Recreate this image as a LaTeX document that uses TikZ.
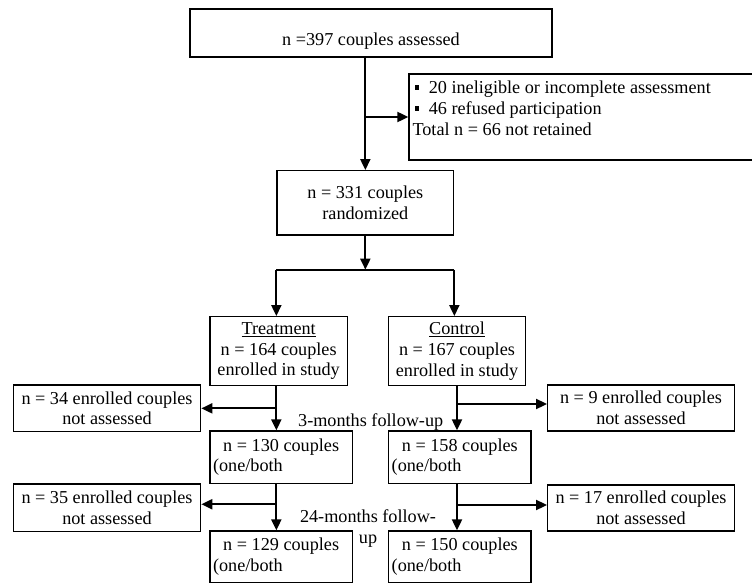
\documentclass[tikz,border=0pt]{standalone}
\usepackage{fontspec}
\setmainfont{Liberation Serif}
\usetikzlibrary{arrows.meta,calc}
\newcommand\sqbul{\makebox[16.3pt][l]{\hspace{2.3pt}\rule[4pt]{4.6pt}{4.6pt}}}
\begin{document}
\begin{tikzpicture}[x=1pt,y=-1pt,
  every node/.style={font=\fontsize{18.2pt}{20.8pt}\selectfont, inner sep=0pt, text=black},
  box/.style={draw=black, line width=1.3pt, align=center},
  conn/.style={draw=black, line width=2pt},
  arr/.style={conn, -{Triangle[length=11pt,width=10pt]}},
  lbl/.style={inner sep=0pt}
]
\useasboundingbox (0,0) rectangle (752,583);

% boxes
\node[box, minimum width=362pt, minimum height=48pt] (top) at (371,33)
  {\raisebox{-13pt}[0pt][0pt]{n =397 couples assessed}};
\node[box, minimum width=345pt, minimum height=86pt] (excl) at (581.5,117)
  {\raisebox{23pt}[0pt][0pt]{\parbox[t]{338pt}{\raggedright
   \sqbul 20 ineligible or incomplete assessment\\
   \sqbul 46 refused participation\\
   Total n = 66 not retained}}};
\node[box, minimum width=176.7pt, minimum height=64.3pt] (rand) at (365.35,202.85)
  {n = 331 couples\\randomized};
\node[box, minimum width=137.3pt, minimum height=69pt] (treat) at (278.65,351.2)
  {\underline{Treatment}\\n = 164 couples\\enrolled in study};
\node[box, minimum width=137.4pt, minimum height=69pt] (ctrl) at (457,351.2)
  {\underline{Control}\\n = 167 couples\\enrolled in study};
\node[box, minimum width=187.4pt, minimum height=46.7pt] (lo1) at (107,408.35)
  {n = 34 enrolled couples\\not assessed};
\node[box, minimum width=186.6pt, minimum height=46pt] (ro1) at (641,408)
  {n = 9 enrolled couples\\not assessed};
\node[box, minimum width=142.3pt, minimum height=52.3pt, align=left] (n130) at (281.15,457.15)
  {\makebox[136.3pt]{n = 130 couples}\\(one/both};
\node[box, minimum width=142.3pt, minimum height=52.3pt, align=left] (n158) at (459.85,457.15)
  {\makebox[136.3pt]{n = 158 couples}\\(one/both};
\node[box, minimum width=187.4pt, minimum height=47.7pt] (lo2) at (107,507.85)
  {n = 35 enrolled couples\\not assessed};
\node[box, minimum width=186.6pt, minimum height=46pt] (ro2) at (641,508)
  {n = 17 enrolled couples\\not assessed};
\node[box, minimum width=142.3pt, minimum height=51.5pt, align=left] (n129) at (281.15,556.75)
  {\makebox[136.3pt]{n = 129 couples}\\(one/both};
\node[box, minimum width=142.3pt, minimum height=51.5pt, align=left] (n150) at (459.85,556.75)
  {\makebox[136.3pt]{n = 150 couples}\\(one/both};

% follow-up labels
\node[lbl, anchor=base] (fu3) at (370.7,426) {3-months follow-up};
\node[lbl, align=center] (fu24) at (368,528.5) {24-months follow-\\up};

% connectors
\draw[arr] (rand.north |- top.south) -- (rand.north);
\draw[arr] (rand.north |- excl.west) -- (excl.west);

\coordinate (split) at ($(rand.south)+(0,34)$);
\draw[arr] (rand.south) -- (split);
\draw[conn] (split -| rand.west) -- (split -| rand.east);
\draw[arr] (split -| rand.west) -- (treat.north -| rand.west);
\draw[arr] (split -| rand.east) -- (ctrl.north -| rand.east);

% treatment arm
\coordinate (tx) at (rand.west |- treat.south);
\draw[arr] (tx) -- (tx |- n130.north);
\draw[arr] (tx |- lo1.east) -- (lo1.east);
\draw[arr] (tx |- n130.south) -- (tx |- n129.north);
\coordinate (lb2) at ($(lo2.east)+(0,-3.6)$);
\draw[arr] (tx |- lb2) -- (lb2);

% control arm
\draw[arr] (ctrl.south) -- (ctrl.south |- n158.north);
\coordinate (rb1) at ($(ro1.west)+(0,-4)$);
\draw[arr] (ctrl.south |- rb1) -- (rb1);
\draw[arr] (ctrl.south |- n158.south) -- (ctrl.south |- n150.north);
\coordinate (rb2) at ($(ro2.west)+(0,-3)$);
\draw[arr] (ctrl.south |- rb2) -- (rb2);
\end{tikzpicture}
\end{document}
